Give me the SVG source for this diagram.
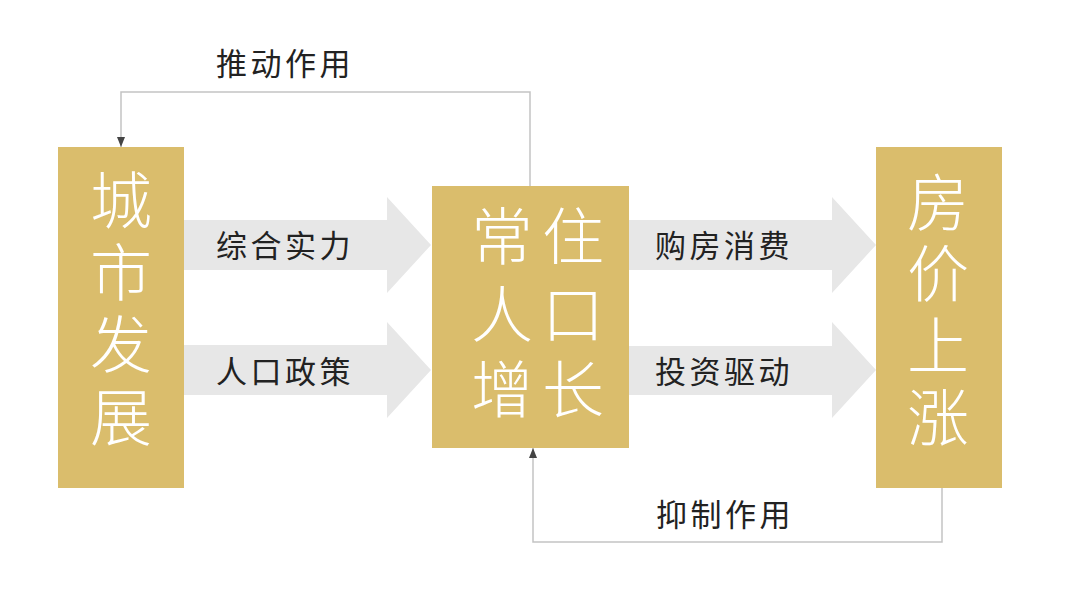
<svg xmlns="http://www.w3.org/2000/svg" width="1080" height="613" viewBox="0 0 1080 613">
<style>
.box{fill:#dabd6c}
.big{font-family:"Noto Sans CJK SC","Noto Sans",sans-serif;font-size:62px;font-weight:300;fill:#ffffff;text-anchor:middle}
.lbl{font-family:"Noto Sans CJK SC","Noto Sans",sans-serif;font-size:31px;font-weight:400;fill:#222222;letter-spacing:3.5px}
.band{fill:#e7e7e7}
.fb{fill:none;stroke:#c3c3c3;stroke-width:1.5}
</style>
<defs>
<marker id="ah" markerUnits="userSpaceOnUse" markerWidth="10" markerHeight="8" refX="10" refY="4" orient="auto">
<path d="M0,0 L10,4 L0,8 Z" fill="#444444"/>
</marker>
</defs>
<rect width="1080" height="613" fill="#ffffff"/>
<g id="connectors">
<path class="band" d="M184,220 H387 V197 L431,245 L387,293 V270 H184 Z"/>
<path class="band" d="M184,345 H387 V322 L431,370 L387,418 V395 H184 Z"/>
<path class="band" d="M629,220 H832 V197 L876,245 L832,293 V270 H629 Z"/>
<path class="band" d="M629,346 H832 V322 L876,370 L832,418 V395 H629 Z"/>
<path class="fb" d="M530,186 V92 H121 V147" marker-end="url(#ah)"/>
<path class="fb" d="M942,488 V542 H533 V448" marker-end="url(#ah)"/>
<text class="lbl" x="216" y="75">推动作用</text>
<text class="lbl" x="216" y="257">综合实力</text>
<text class="lbl" x="216" y="383">人口政策</text>
<text class="lbl" x="655" y="257">购房消费</text>
<text class="lbl" x="655" y="383">投资驱动</text>
<text class="lbl" x="656" y="526">抑制作用</text>
</g>
<g id="node-city">
<rect class="box" x="58" y="147" width="126" height="341"/>
<text class="big" x="121" y="224">城</text>
<text class="big" x="121" y="296">市</text>
<text class="big" x="121" y="368">发</text>
<text class="big" x="121" y="441">展</text>
</g>
<g id="node-pop">
<rect class="box" x="432" y="186" width="197" height="262"/>
<text class="big" x="502" y="260">常</text>
<text class="big" x="573" y="260">住</text>
<text class="big" x="502" y="338">人</text>
<text class="big" x="573" y="338">口</text>
<text class="big" x="502" y="413">增</text>
<text class="big" x="573" y="413">长</text>
</g>
<g id="node-price">
<rect class="box" x="876" y="147" width="126" height="341"/>
<text class="big" x="938" y="226">房</text>
<text class="big" x="938" y="297">价</text>
<text class="big" x="938" y="369">上</text>
<text class="big" x="938" y="441">涨</text>
</g>
</svg>
